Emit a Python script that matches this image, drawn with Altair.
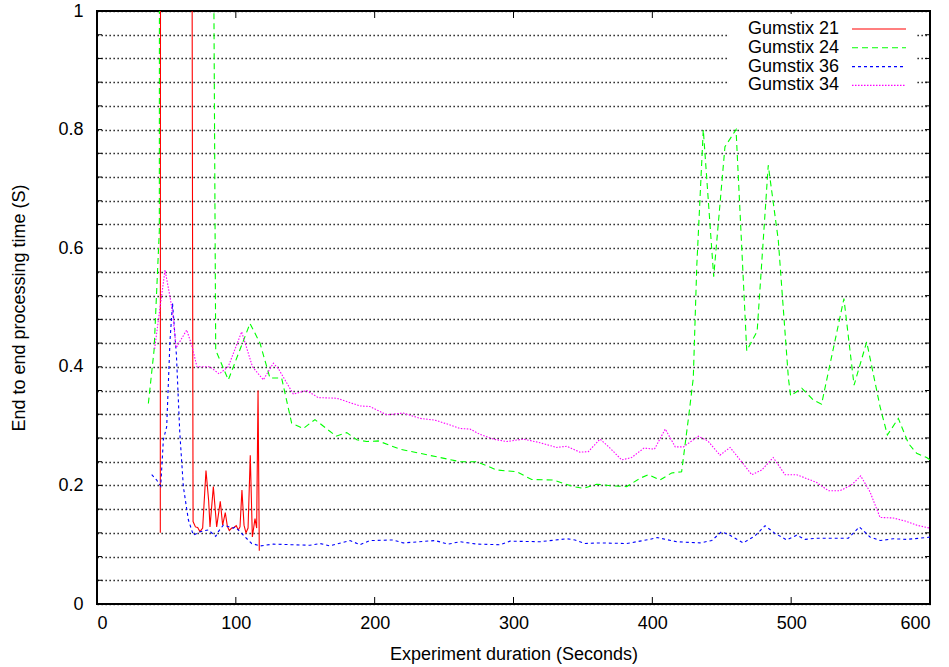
import altair as alt
import pandas as pd

# ---------------- data ----------------
SERIES = ["Gumstix 21", "Gumstix 24", "Gumstix 36", "Gumstix 34"]
COLORS = ["#ff0000", "#00ff00", "#0000ff", "#ff00ff"]
DASHES = [None, [6, 4], [3, 3], [1.5, 1.5]]

# Gumstix 21 (values above 1 leave the plot and are clipped)
x21 = [45.6, 46.0, 67.0, 69.2, 70.9, 72.5, 74.2, 76.1, 78.5, 80.4, 81.4, 83.8, 86.2,
       88.8, 90.5, 92.4, 93.9, 95.3, 97.0, 98.7, 100.3, 101.8, 103.0, 104.4, 105.9,
       107.3, 108.8, 110.4, 111.9, 113.8, 115.0, 116.0, 116.9]
y21 = [0.12, 3.0, 3.0, 0.139, 0.130, 0.129, 0.122, 0.128, 0.225, 0.175, 0.130, 0.198, 0.130,
       0.173, 0.133, 0.154, 0.131, 0.124, 0.128, 0.129, 0.132, 0.125, 0.130, 0.192, 0.133,
       0.120, 0.128, 0.251, 0.113, 0.144, 0.128, 0.36, 0.09]

# Gumstix 24
x24 = [37.0, 41.1, 44.9, 45.6, 82.0, 85.5, 94.6, 110.2, 117.4, 124.6, 133.0, 140.2, 148.6,
       157.0, 172.2, 179.9, 187.1, 194.3, 202.6, 218.3, 232.7, 247.1, 261.5, 273.5, 287.9,
       302.3, 313.1, 328.7, 343.1, 350.3, 359.9, 371.9, 381.5, 391.1, 397.1, 405.5, 413.9,
       421.1, 426.0, 429.5, 432.0, 436.7, 444.2, 452.3, 460.3, 468.0, 475.5, 483.5, 490.7,
       498.0, 499.6, 507.6, 516.0, 521.9, 538.0, 545.3, 554.4, 564.0, 569.3, 577.2, 584.4,
       590.4, 597.6, 600.0]
y24 = [0.338, 0.428, 0.63, 5.0, 2.0, 0.428, 0.378, 0.473, 0.44, 0.381, 0.381, 0.305, 0.296,
       0.311, 0.283, 0.289, 0.277, 0.274, 0.275, 0.261, 0.254, 0.247, 0.240, 0.240, 0.226,
       0.223, 0.210, 0.209, 0.198, 0.195, 0.202, 0.199, 0.198, 0.212, 0.218, 0.209, 0.221,
       0.223, 0.313, 0.381, 0.569, 0.800, 0.552, 0.771, 0.800, 0.427, 0.460, 0.740, 0.614,
       0.381, 0.351, 0.364, 0.344, 0.337, 0.515, 0.369, 0.442, 0.333, 0.285, 0.313, 0.271,
       0.254, 0.247, 0.243]

# Gumstix 36
x36 = [39.4, 43.0, 45.9, 47.8, 50.2, 52.6, 54.4, 57.2, 59.6, 62.2, 65.8, 69.4, 74.2, 80.2,
       85.5, 87.4, 91.0, 98.2, 99.4, 103.0, 105.4, 111.4, 117.6, 127.0, 140.0, 153.4, 160.6,
       167.8, 182.2, 189.4, 196.6, 213.4, 220.6, 243.5, 253.0, 261.5, 273.5, 290.3, 297.5,
       319.1, 338.3, 344.3, 351.5, 362.3, 381.5, 391.1, 398.3, 403.5, 417.5, 434.3, 442.8,
       449.9, 455.9, 465.5, 474.0, 481.2, 488.4, 496.8, 504.0, 510.0, 518.4, 541.2, 549.1,
       556.8, 564.0, 573.6, 583.2, 597.6, 600.0]
y36 = [0.218, 0.209, 0.199, 0.277, 0.299, 0.445, 0.507, 0.420, 0.290, 0.198, 0.142, 0.116, 0.122, 0.125,
       0.114, 0.122, 0.133, 0.128, 0.130, 0.122, 0.116, 0.102, 0.098, 0.101, 0.100, 0.099, 0.102,
       0.098, 0.107, 0.100, 0.107, 0.108, 0.103, 0.107, 0.101, 0.105, 0.101, 0.100, 0.106,
       0.105, 0.110, 0.108, 0.102, 0.103, 0.102, 0.106, 0.109, 0.112, 0.105, 0.103, 0.107,
       0.122, 0.116, 0.103, 0.115, 0.132, 0.119, 0.108, 0.116, 0.109, 0.111, 0.111, 0.130,
       0.113, 0.107, 0.110, 0.109, 0.112, 0.113]

# Gumstix 34
x34 = [41.5, 45.4, 49.0, 52.6, 54.5, 57.0, 64.6, 68.2, 72.0, 81.4, 88.0, 94.5, 104.2, 112.0,
       119.8, 127.0, 130.6, 141.4, 151.0, 159.4, 172.7, 189.4, 196.6, 208.7, 220.6, 232.7,
       243.5, 254.3, 261.5, 268.7, 275.9, 285.5, 295.1, 307.1, 319.1, 331.1, 338.3, 347.9,
       353.9, 362.3, 369.5, 377.9, 385.1, 394.0, 401.5, 409.3, 416.5, 422.5, 433.1, 440.0,
       448.7, 456.0, 463.2, 471.6, 478.8, 487.1, 495.6, 504.0, 518.4, 526.8, 535.2, 543.6,
       550.1, 556.8, 564.0, 573.6, 582.0, 590.4, 597.6, 600.0]
y34 = [0.430, 0.500, 0.563, 0.518, 0.490, 0.432, 0.462, 0.437, 0.400, 0.400, 0.388, 0.400, 0.459, 0.400,
       0.378, 0.406, 0.397, 0.354, 0.360, 0.348, 0.347, 0.334, 0.333, 0.319, 0.322, 0.313,
       0.310, 0.302, 0.296, 0.295, 0.286, 0.278, 0.274, 0.278, 0.272, 0.264, 0.266, 0.256,
       0.257, 0.278, 0.263, 0.243, 0.247, 0.263, 0.261, 0.295, 0.265, 0.265, 0.283, 0.275,
       0.251, 0.264, 0.243, 0.218, 0.226, 0.247, 0.218, 0.218, 0.205, 0.191, 0.191, 0.201,
       0.216, 0.189, 0.146, 0.145, 0.140, 0.133, 0.129, 0.128]

X_TICKS = [0, 100, 200, 300, 400, 500, 600]
Y_TICKS = [round(i * 0.04, 2) for i in range(26)]

XS = [x21, x24, x36, x34]
YS = [y21, y24, y36, y34]

# ---------------- chart ----------------
W, H = 833, 593
FONT = "Liberation Sans"

xscale = alt.Scale(domain=[0, 600], nice=False, zero=False)
yscale = alt.Scale(domain=[0, 1], nice=False, zero=False)

xaxis = alt.Axis(values=X_TICKS, grid=False, ticks=False, tickSize=0, domain=False,
                 labelPadding=10, labelFontSize=18, labelFont=FONT, labelColor="black",
                 title="Experiment duration (Seconds)", titleFont=FONT, titleFontSize=18,
                 titleFontWeight="normal", titleColor="black", titleY=50,
                 titleBaseline="middle")
yaxis = alt.Axis(values=Y_TICKS, grid=True, gridDash=[1.3, 2.7], gridColor="black",
                 gridOpacity=1, gridWidth=1.3, ticks=False, tickSize=0, domain=False,
                 labelExpr="round(datum.value*100) % 20 == 0 ? toString(round(datum.value*100)/100) : ''",
                 labelPadding=14, labelFontSize=18, labelFont=FONT, labelColor="black",
                 title="End to end processing time (S)", titleFont=FONT, titleFontSize=18,
                 titleFontWeight="normal", titleColor="black", titleX=-78, titleY=H / 2,
                 titleBaseline="middle", titleAngle=-90)

X = lambda f: alt.X(f, scale=xscale, axis=xaxis)
Y = lambda f: alt.Y(f, scale=yscale, axis=yaxis)

layers = []
for name, color, dash, xs, ys in zip(SERIES, COLORS, DASHES, XS, YS):
    d = pd.DataFrame({"t": xs, "v": ys, "series": name})
    kw = dict(clip=True, color=color, strokeWidth=1.1)
    if dash:
        kw["strokeDash"] = dash
    layers.append(alt.Chart(d).mark_line(**kw).encode(x=X("t:Q"), y=Y("v:Q"), order="t:Q"))

# inward ticks on all four sides
xt = pd.DataFrame({"t": X_TICKS})
yt = pd.DataFrame({"v": Y_TICKS})
layers.append(alt.Chart(xt).mark_rule(color="black", strokeWidth=1).encode(
    x=X("t:Q"), y=alt.value(H), y2=alt.value(H - 7)))
layers.append(alt.Chart(xt).mark_rule(color="black", strokeWidth=1).encode(
    x=X("t:Q"), y=alt.value(0), y2=alt.value(7)))
layers.append(alt.Chart(yt).mark_rule(color="black", strokeWidth=1).encode(
    y=Y("v:Q"), x=alt.value(0), x2=alt.value(5)))
layers.append(alt.Chart(yt).mark_rule(color="black", strokeWidth=1).encode(
    y=Y("v:Q"), x=alt.value(W - 5), x2=alt.value(W)))

# key (labels left, samples right) on a white box
one = pd.DataFrame({"k": [0]})
layers.append(alt.Chart(one).mark_rect(color="white").encode(
    x=alt.value(631), x2=alt.value(820), y=alt.value(3), y2=alt.value(88)))
for i, (name, color, dash) in enumerate(zip(SERIES, COLORS, DASHES)):
    yy = 18 + 18.8 * i
    layers.append(alt.Chart(one).mark_text(align="right", baseline="middle", fontSize=18,
                                           font=FONT, color="black").encode(
        text=alt.value(name), x=alt.value(742), y=alt.value(yy)))
    kw = dict(color=color, strokeWidth=1.1)
    if dash:
        kw["strokeDash"] = dash
    layers.append(alt.Chart(one).mark_rule(**kw).encode(
        x=alt.value(755), x2=alt.value(809), y=alt.value(yy)))

chart = alt.layer(*layers).properties(
    width=W, height=H,
    padding={"left": 97, "top": 11, "right": 19, "bottom": 63},
    autosize=alt.AutoSizeParams(type="none"),
    background="white",
).configure_view(stroke="black", strokeWidth=2)

chart.save("out.html", embed_options={"renderer": "svg", "actions": False})
